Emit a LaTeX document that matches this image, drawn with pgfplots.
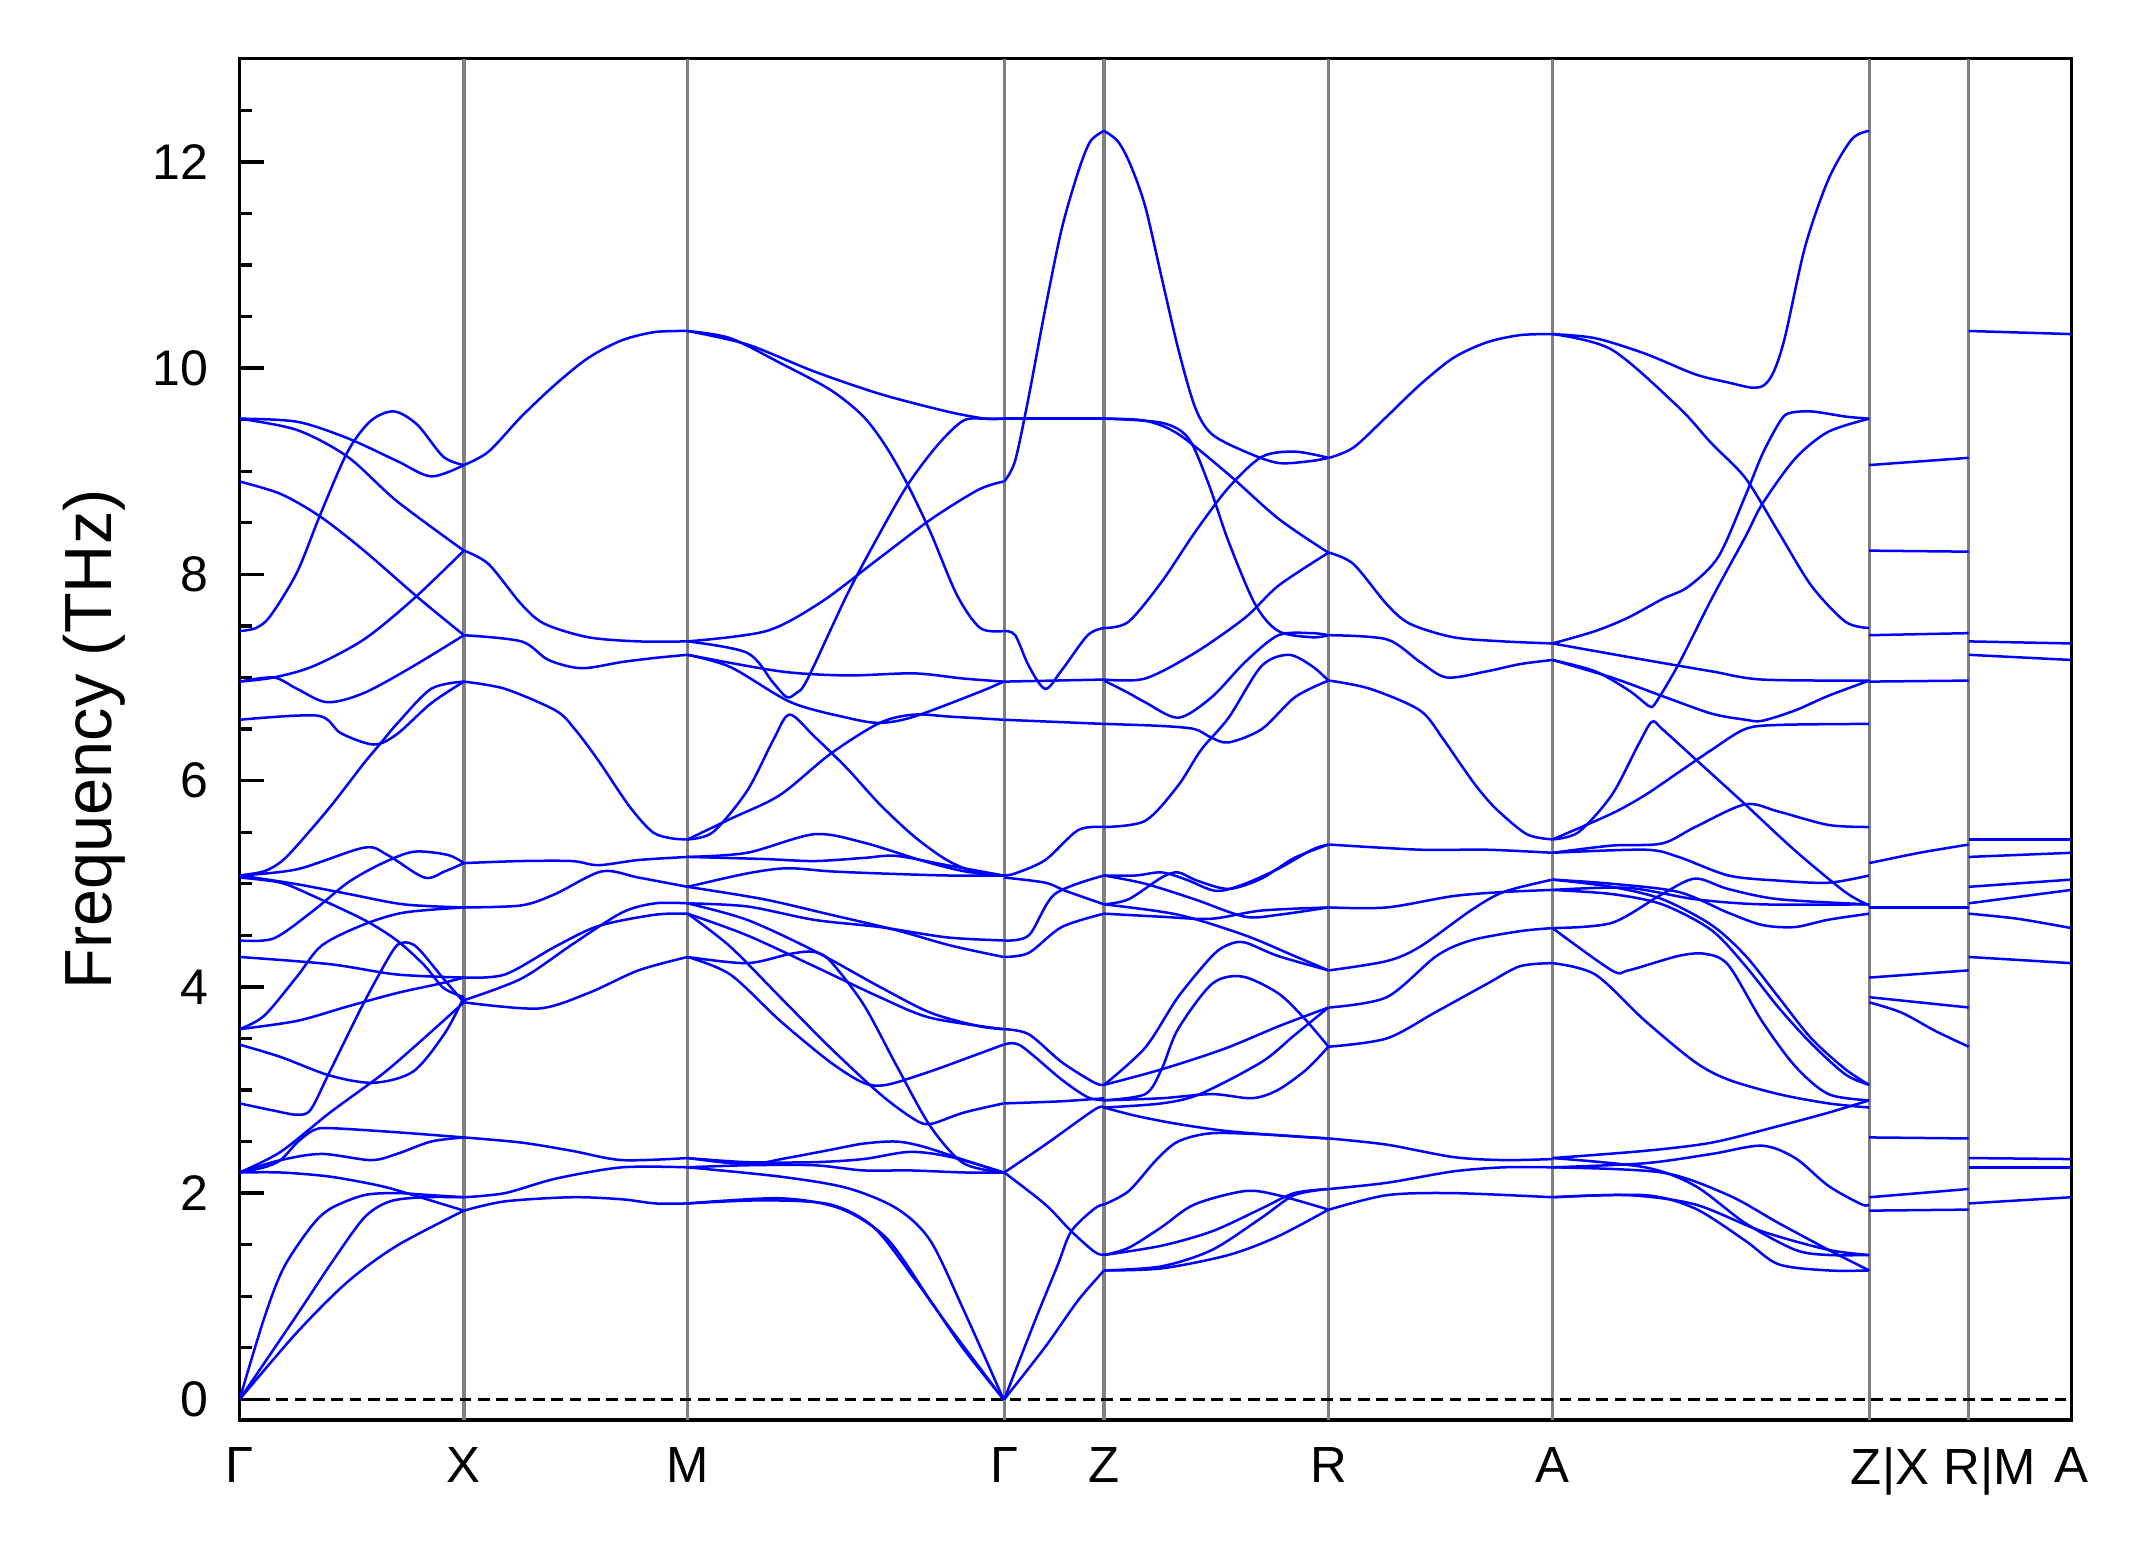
\documentclass[border=0pt]{standalone}
\usepackage{pgfplots}
\pgfplotsset{compat=1.18}
\usepackage{fontspec}
\setmainfont{Liberation Sans}
\pgfplotsset{band/.style={color={rgb,255:red,0;green,0;blue,255}, line width=0.6pt, smooth, no marks}}
\begin{document}
\begin{tikzpicture}
\begin{axis}[
  scale only axis, width=439.6pt, height=326.7pt,
  xmin=0, xmax=1339, ymin=-0.2, ymax=13,
  axis line style={line width=0.8pt},
  xtick={0,164,327.5,559,632,796,959.8,1191.3,1264,1339},
  xticklabels={Γ,X,M,Γ,Z,R,A,\hspace*{10pt}Z|X,\hspace*{10pt}R|M,A},
  x tick style={draw=none},
  ytick={0,2,4,6,8,10,12},
  minor ytick={0.5,1,1.5,2.5,3,3.5,4.5,5,5.5,6.5,7,7.5,8.5,9,9.5,10.5,11,11.5,12.5},
  ytick pos=left, tick align=inside,
  major tick length=5.8pt, minor tick length=3pt,
  y tick style={black, line width=0.8pt},
  /pgf/number format/assume math mode=true,
  yticklabel style={font=\fontsize{12}{15}\selectfont, xshift=-4pt},
  xticklabel style={font=\fontsize{12.2}{15}\selectfont, yshift=-3pt},
  ylabel={Frequency (THz)},
  ylabel style={font=\fontsize{16}{19}\selectfont, at={(axis description cs:-0.0796,0.5)}, anchor=center},
]
% vertical separators and zero line
\addplot[gray, line width=0.8pt] coordinates {(164,-0.2) (164,13)};
\addplot[gray, line width=0.8pt] coordinates {(327.5,-0.2) (327.5,13)};
\addplot[gray, line width=0.8pt] coordinates {(559,-0.2) (559,13)};
\addplot[gray, line width=0.8pt] coordinates {(632,-0.2) (632,13)};
\addplot[gray, line width=0.8pt] coordinates {(796,-0.2) (796,13)};
\addplot[gray, line width=0.8pt] coordinates {(959.8,-0.2) (959.8,13)};
\addplot[gray, line width=0.8pt] coordinates {(1191.3,-0.2) (1191.3,13)};
\addplot[gray, line width=0.8pt] coordinates {(1264,-0.2) (1264,13)};
\addplot[black, line width=0.75pt, dash pattern=on 2.8pt off 1.6pt] coordinates {(0,0) (1339,0)};

% ===== Gamma - X =====
\addplot[band] coordinates {(0,0)(17.8,0.78)(32,1.27)(52,1.67)(66.5,1.85)(91,1.98)(115,2.0)(140,1.98)(164,1.96)};
\addplot[band] coordinates {(0,0)(42,0.82)(66.5,1.31)(91,1.76)(110,1.92)(135,1.96)(164,1.96)};
\addplot[band] coordinates {(0,0)(42,0.65)(79,1.14)(115,1.49)(164,1.83)};
\addplot[band] coordinates {(0,2.2)(30,2.2)(66,2.16)(103,2.07)(127,1.98)(164,1.83)};
\addplot[band] coordinates {(0,2.2)(18,2.25)(30,2.32)(42,2.49)(54,2.61)(66,2.63)(115,2.59)(164,2.54)};
\addplot[band] coordinates {(0,2.2)(30,2.32)(60,2.38)(96,2.32)(115,2.38)(140,2.5)(164,2.54)};
\addplot[band] coordinates {(0,2.2)(30,2.4)(66,2.78)(103,3.14)(127,3.41)(164,3.85)};
\addplot[band] coordinates {(0,3.44)(30,3.32)(66,3.14)(98,3.07)(127,3.18)(150,3.55)(164,3.9)};
\addplot[band] coordinates {(0,2.87)(25,2.8)(42,2.76)(52,2.81)(66,3.18)(91,3.85)(112,4.35)(120,4.43)(130,4.38)(149,4.08)(164,3.85)};
\addplot[band] coordinates {(0,5.06)(30,5.01)(54,4.88)(91,4.65)(115,4.45)(135,4.21)(149,3.99)(164,3.9)};
\addplot[band] coordinates {(0,4.29)(66,4.22)(115,4.12)(164,4.09)};
\addplot[band] coordinates {(0,3.59)(42,3.67)(79,3.81)(115,3.94)(146,4.03)(164,4.09)};
\addplot[band] coordinates {(0,3.59)(18,3.72)(42,4.1)(60,4.4)(90,4.6)(120,4.72)(164,4.77)};
\addplot[band] coordinates {(0,5.08)(40,5.0)(80,4.9)(120,4.8)(164,4.77)};
\addplot[band] coordinates {(0,4.45)(25,4.47)(54,4.74)(79,5.01)(103,5.19)(127,5.31)(152,5.28)(164,5.2)};
\addplot[band] coordinates {(0,5.08)(42,5.14)(91,5.35)(108,5.28)(135,5.06)(150,5.12)(164,5.2)};
\addplot[band] coordinates {(0,5.08)(17.8,5.12)(30,5.21)(42,5.37)(66.5,5.75)(91,6.17)(103,6.36)(115,6.55)(140,6.89)(164,6.96)};
\addplot[band] coordinates {(0,6.59)(57,6.63)(74,6.46)(98,6.35)(115,6.45)(140,6.75)(164,6.96)};
\addplot[band] coordinates {(0,6.96)(25,7.0)(42,6.89)(64,6.76)(91,6.85)(127,7.11)(164,7.41)};
\addplot[band] coordinates {(0,6.96)(25,7.0)(54,7.11)(91,7.37)(127,7.76)(164,8.23)};
\addplot[band] coordinates {(0,7.45)(12,7.48)(22.7,7.6)(42,8.02)(59,8.58)(79,9.19)(96,9.49)(113,9.58)(130,9.45)(149,9.14)(164,9.06)};
\addplot[band] coordinates {(0,8.90)(30,8.78)(59,8.56)(91,8.23)(130,7.78)(164,7.41)};
\addplot[band] coordinates {(0,9.51)(42,9.40)(79,9.14)(115,8.71)(164,8.23)};
\addplot[band] coordinates {(0,9.51)(42,9.48)(79,9.32)(115,9.1)(140,8.95)(164,9.06)};

% ===== X - M =====
\addplot[band] coordinates {(164,1.83)(194,1.92)(243,1.96)(279.5,1.94)(303.8,1.90)(327.5,1.90)};
\addplot[band] coordinates {(164,1.96)(194,2.0)(231,2.14)(279.5,2.25)(327.5,2.25)};
\addplot[band] coordinates {(164,2.54)(206,2.49)(243,2.41)(279.5,2.32)(327.5,2.34)};
\addplot[band] coordinates {(164,3.85)(218.5,3.79)(255,3.94)(291.6,4.16)(327.5,4.29)};
\addplot[band] coordinates {(164,3.87)(206,4.08)(243,4.41)(279.5,4.72)(303.8,4.81)(327.5,4.81)};
\addplot[band] coordinates {(164,4.09)(194,4.12)(230.7,4.39)(262.4,4.59)(303.8,4.70)(327.5,4.71)};
\addplot[band] coordinates {(164,4.77)(206,4.79)(230.7,4.90)(264.8,5.12)(291.6,5.06)(327.5,4.97)};
\addplot[band] coordinates {(164,5.20)(206,5.22)(243,5.22)(262.4,5.18)(291.6,5.23)(327.5,5.26)};
\addplot[band] coordinates {(164,6.96)(194,6.89)(231,6.68)(245,6.5)(262,6.2)(285,5.75)(302,5.5)(316,5.44)(327.5,5.43)};
\addplot[band] coordinates {(164,7.41)(206,7.35)(225.8,7.17)(250,7.09)(279.5,7.15)(303.8,7.19)(327.5,7.22)};
\addplot[band] coordinates {(164,8.23)(182,8.10)(206,7.71)(223,7.52)(255,7.39)(291.6,7.35)(327.5,7.35)};
\addplot[band] coordinates {(164,9.06)(182,9.19)(206,9.53)(230.7,9.84)(255,10.1)(279.5,10.27)(303.8,10.35)(327.5,10.36)};

% ===== M - Gamma =====
\addplot[band] coordinates {(327.5,1.90)(395.2,1.95)(439.1,1.85)(473.2,1.56)(504.9,0.96)(529.2,0.49)(558.5,0)};
\addplot[band] coordinates {(327.5,1.90)(383,1.93)(431.8,1.89)(463.5,1.67)(492.7,1.18)(517.1,0.73)(558.5,0)};
\addplot[band] coordinates {(327.5,2.25)(395.2,2.16)(444,2.05)(480.5,1.85)(504.9,1.54)(529.2,0.87)(558.5,0)};
\addplot[band] coordinates {(327.5,2.34)(371,2.28)(400,2.34)(432,2.42)(456,2.48)(480,2.5)(500,2.45)(530,2.32)(558.5,2.2)};
\addplot[band] coordinates {(327.5,2.25)(371,2.27)(420,2.27)(456,2.22)(490,2.22)(530,2.2)(558.5,2.2)};
\addplot[band] coordinates {(327.5,2.34)(371,2.3)(420,2.3)(456,2.33)(490,2.4)(520,2.35)(558.5,2.2)};
\addplot[band] coordinates {(327.5,5.43)(346,5.5)(371,5.9)(390,6.39)(402,6.64)(420,6.43)(444,6.12)(468,5.77)(493,5.46)(517,5.23)(540,5.1)(558.5,5.08)};
\addplot[band] coordinates {(327.5,5.43)(359,5.63)(395,5.86)(432,6.26)(468,6.56)(493,6.64)(520,6.62)(558.5,6.59)};
\addplot[band] coordinates {(327.5,5.26)(371,5.3)(420,5.48)(456,5.4)(500,5.22)(530,5.12)(558.5,5.08)};
\addplot[band] coordinates {(327.5,5.26)(383,5.24)(420,5.22)(456,5.25)(480,5.27)(517,5.18)(558.5,5.08)};
\addplot[band] coordinates {(327.5,4.97)(371,5.1)(400,5.15)(432,5.12)(468,5.1)(517,5.08)(558.5,5.08)};
\addplot[band] coordinates {(327.5,4.97)(383,4.85)(432,4.7)(480,4.55)(520,4.4)(558.5,4.29)};
\addplot[band] coordinates {(327.5,4.81)(371,4.78)(420,4.65)(468,4.58)(517,4.48)(558.5,4.45)};
\addplot[band] coordinates {(327.5,4.81)(371,4.65)(420,4.35)(468,4.0)(505,3.75)(540,3.62)(558.5,3.59)};
\addplot[band] coordinates {(327.5,4.71)(371,4.5)(420,4.2)(468,3.9)(505,3.7)(558.5,3.59)};
\addplot[band] coordinates {(327.5,4.71)(358.7,4.39)(395.2,3.9)(431.8,3.41)(468.3,2.96)(492.7,2.72)(504.9,2.67)(529.2,2.78)(558.5,2.87)};
\addplot[band] coordinates {(327.5,4.29)(370.8,4.23)(402.5,4.32)(419.6,4.34)(431.8,4.25)(456.1,3.83)(480.5,3.23)(504.9,2.65)(529.2,2.29)(558.5,2.2)};
\addplot[band] coordinates {(327.5,4.29)(358.7,4.12)(395.2,3.67)(431.8,3.27)(456.1,3.07)(473,3.05)(504.9,3.18)(534,3.32)(558.5,3.44)};
\addplot[band] coordinates {(327.5,10.36)(371,10.23)(419.6,9.97)(468,9.75)(517,9.58)(545,9.51)(558.5,9.51)};
\addplot[band] coordinates {(327.5,10.36)(358.7,10.29)(395.2,10.05)(431.8,9.79)(456.1,9.53)(473,9.23)(488,8.88)(505,8.41)(524.4,7.80)(541.4,7.48)(558.5,7.45)};
\addplot[band] coordinates {(327.5,7.35)(385,7.45)(425,7.73)(465,8.13)(505,8.53)(540,8.82)(558.5,8.90)};
\addplot[band] coordinates {(327.5,7.35)(371,7.24)(390,6.95)(400,6.81)(407,6.85)(415,6.98)(444,7.8)(466,8.35)(488,8.86)(510,9.25)(529,9.49)(545,9.51)(558.5,9.51)};
\addplot[band] coordinates {(327.5,7.22)(359,7.1)(403,6.76)(444,6.61)(468,6.56)(493,6.62)(541,6.86)(558.5,6.96)};
\addplot[band] coordinates {(327.5,7.22)(395,7.06)(444,7.02)(493,7.04)(529,6.99)(558.5,6.96)};

% ===== Gamma - Z =====
\addplot[band] coordinates {(559,0)(589,0.51)(613,0.96)(632,1.25)};
\addplot[band] coordinates {(559,0)(582,0.78)(598,1.3)(608,1.63)(625,1.85)(632,1.89)};
\addplot[band] coordinates {(559,2.2)(589,1.89)(608,1.63)(625,1.43)(632,1.40)};
\addplot[band] coordinates {(559,2.2)(589,2.47)(625,2.81)(632,2.83)};
\addplot[band] coordinates {(559,2.87)(600,2.89)(632,2.92)};
\addplot[band] coordinates {(559,3.44)(571,3.43)(601,3.1)(620,2.93)(632,2.9)};
\addplot[band] coordinates {(559,3.59)(577,3.54)(601,3.27)(625,3.07)(632,3.05)};
\addplot[band] coordinates {(559,4.29)(577,4.33)(601,4.58)(632,4.71)};
\addplot[band] coordinates {(559,4.45)(577,4.5)(596,4.9)(632,5.08)};
\addplot[band] coordinates {(559,5.08)(567,5.1)(589,5.23)(613,5.52)(632,5.55)};
\addplot[band] coordinates {(559,5.06)(589,5.01)(604,4.93)(632,4.80)};
\addplot[band] coordinates {(559,6.59)(632,6.55)};
\addplot[band] coordinates {(559,6.96)(632,6.98)};
\addplot[band] coordinates {(559,7.45)(567,7.41)(577,7.11)(589,6.89)(601,7.07)(620,7.41)(632,7.48)};
\addplot[band] coordinates {(559,8.9)(566.9,9.1)(576.7,9.71)(588.9,10.57)(601,11.35)(613.2,11.91)(622,12.2)(632,12.30)};
\addplot[band] coordinates {(559,9.51)(632,9.51)};

% ===== Z - R =====
\addplot[band] coordinates {(632,12.3)(642,12.2)(651,11.98)(662,11.57)(674.2,10.87)(686.3,10.18)(698.5,9.62)(710.7,9.36)(735.1,9.19)(759.4,9.08)(783.8,9.10)(796,9.13)};
\addplot[band] coordinates {(632,9.51)(662,9.49)(686.3,9.36)(722.9,8.97)(759.4,8.54)(796,8.21)};
\addplot[band] coordinates {(632,9.51)(674,9.47)(693.6,9.32)(708.3,8.88)(722.9,8.32)(742.4,7.71)(759.4,7.45)(783.8,7.39)(796,7.41)};
\addplot[band] coordinates {(632,7.48)(649.8,7.54)(674.2,7.93)(698.5,8.41)(722.9,8.84)(747.3,9.14)(771.6,9.19)(796,9.13)};
\addplot[band] coordinates {(632,6.98)(662,6.99)(698.5,7.24)(735.1,7.58)(759.4,7.89)(796,8.21)};
\addplot[band] coordinates {(632,6.97)(649.8,6.85)(662,6.76)(686.3,6.61)(710.7,6.81)(735.1,7.15)(759.4,7.41)(783.8,7.43)(796,7.41)};
\addplot[band] coordinates {(632,6.55)(674,6.53)(698,6.5)(710,6.42)(722.9,6.37)(747.3,6.5)(771.6,6.81)(796,6.97)};
\addplot[band] coordinates {(632,5.55)(662,5.61)(686,5.95)(703,6.30)(723,6.61)(747,7.11)(767,7.22)(784,7.11)(796,6.97)};
\addplot[band] coordinates {(632,5.08)(655,5.08)(674,5.11)(692,5.04)(714,4.93)(735,5.0)(760,5.15)(784,5.33)(796,5.38)};
\addplot[band] coordinates {(632,4.80)(650,4.85)(674,5.06)(686,5.11)(700,5.03)(723,4.95)(747,5.05)(771,5.25)(796,5.38)};
\addplot[band] coordinates {(632,4.71)(674,4.68)(710,4.66)(747,4.74)(796,4.77)};
\addplot[band] coordinates {(632,5.08)(662,5.0)(698,4.85)(735,4.68)(760,4.7)(796,4.77)};
\addplot[band] coordinates {(632,4.80)(686,4.7)(735,4.5)(771,4.3)(796,4.16)};
\addplot[band] coordinates {(632,3.05)(662,3.41)(686,3.90)(711,4.30)(723,4.41)(735,4.43)(759,4.30)(796,4.16)};
\addplot[band] coordinates {(632,2.9)(662,2.96)(674,3.2)(686,3.59)(711,4.03)(733,4.10)(759,3.94)(778,3.7)(796,3.42)};
\addplot[band] coordinates {(632,3.05)(674,3.2)(720,3.4)(760,3.62)(796,3.80)};
\addplot[band] coordinates {(632,2.83)(674,2.87)(702,2.96)(747,3.27)(771,3.53)(796,3.80)};
\addplot[band] coordinates {(632,2.9)(674,2.92)(711,2.96)(740,2.92)(759,3.0)(780,3.2)(796,3.42)};
\addplot[band] coordinates {(632,2.83)(655,2.75)(686,2.67)(723,2.6)(771,2.55)(796,2.53)};
\addplot[band] coordinates {(632,1.89)(650,2.02)(670,2.32)(686,2.5)(710,2.58)(747,2.57)(796,2.53)};
\addplot[band] coordinates {(632,1.40)(650,1.47)(674,1.67)(698,1.89)(735,2.02)(759,1.98)(796,1.84)};
\addplot[band] coordinates {(632,1.40)(674,1.49)(711,1.63)(747,1.85)(771,2.0)(796,2.04)};
\addplot[band] coordinates {(632,1.25)(674,1.29)(711,1.45)(747,1.76)(771,1.98)(796,2.04)};
\addplot[band] coordinates {(632,1.25)(674,1.27)(723,1.40)(759,1.58)(796,1.84)};

% ===== R - A =====
\addplot[band] coordinates {(796.5,9.13)(814.3,9.23)(838.6,9.53)(863,9.84)(887.4,10.1)(911.8,10.25)(936.1,10.32)(959.8,10.33)};
\addplot[band] coordinates {(796.5,8.21)(814.3,8.10)(838.6,7.71)(855.7,7.52)(887.4,7.39)(923.9,7.35)(959.8,7.33)};
\addplot[band] coordinates {(796.5,7.41)(838.6,7.37)(863,7.15)(882.5,7.0)(911.8,7.06)(936.1,7.13)(959.8,7.17)};
\addplot[band] coordinates {(796.5,6.97)(826.5,6.89)(863,6.68)(880,6.4)(892,6.17)(905,5.93)(919,5.72)(941,5.48)(959.8,5.43)};
\addplot[band] coordinates {(796.5,5.38)(863,5.33)(911.8,5.33)(959.8,5.30)};
\addplot[band] coordinates {(796.5,4.77)(838.6,4.77)(887,4.88)(924,4.92)(959.8,4.94)};
\addplot[band] coordinates {(796.5,4.16)(838.6,4.25)(863,4.39)(900,4.74)(924,4.92)(959.8,5.04)};
\addplot[band] coordinates {(796.5,3.80)(838.6,3.9)(875,4.3)(900,4.45)(936,4.54)(959.8,4.57)};
\addplot[band] coordinates {(796.5,3.42)(838.6,3.5)(875,3.76)(912,4.03)(936,4.2)(959.8,4.23)};
\addplot[band] coordinates {(796.5,2.53)(838.6,2.47)(887,2.35)(924,2.32)(959.8,2.33)};
\addplot[band] coordinates {(796.5,2.04)(838.6,2.1)(887,2.21)(924,2.25)(959.8,2.25)};
\addplot[band] coordinates {(796.5,1.84)(838.6,1.98)(887,2.0)(959.8,1.96)};

% ===== A - Z =====
\addplot[band] coordinates {(959.8,10.33)(991,10.29)(1027.5,10.14)(1064.1,9.94)(1088.4,9.86)(1106,9.81)(1115,9.84)(1122,9.98)(1129.9,10.31)(1144.5,11.18)(1161.5,11.83)(1178.6,12.22)(1191.3,12.30)};
\addplot[band] coordinates {(959.8,10.33)(1003,10.18)(1052,9.62)(1076,9.27)(1101,8.93)(1125,8.41)(1149,7.89)(1174,7.54)(1191.3,7.48)};
\addplot[band] coordinates {(959.8,7.33)(1027.5,7.17)(1076,7.06)(1113,6.98)(1191.3,6.97)};
\addplot[band] coordinates {(959.8,7.33)(991,7.45)(1015,7.58)(1040,7.76)(1059,7.88)(1081,8.17)(1101,8.77)(1113,9.16)(1125,9.46)(1132,9.56)(1149,9.58)(1174,9.53)(1191.3,9.51)};
\addplot[band] coordinates {(959.8,7.17)(991,7.06)(1015,6.88)(1027.5,6.75)(1031,6.72)(1035,6.75)(1052,7.13)(1076,7.76)(1101,8.37)(1113,8.68)(1137,9.12)(1161,9.38)(1191.3,9.51)};
\addplot[band] coordinates {(959.8,7.17)(1003,7.0)(1040,6.82)(1076,6.65)(1101,6.59)(1113,6.58)(1137,6.68)(1161,6.82)(1191.3,6.97)};
\addplot[band] coordinates {(959.8,5.43)(1003.1,5.68)(1027.5,5.86)(1051.9,6.08)(1076.3,6.30)(1100.6,6.50)(1125,6.54)(1191.3,6.55)};
\addplot[band] coordinates {(959.8,5.43)(978.8,5.50)(1003.1,5.86)(1022.6,6.35)(1032.4,6.57)(1040,6.5)(1064.1,6.21)(1100.6,5.77)(1137.2,5.32)(1173.7,4.92)(1191.3,4.79)};
\addplot[band] coordinates {(959.8,5.30)(1003.1,5.37)(1039.7,5.39)(1064.1,5.55)(1100.6,5.77)(1125,5.70)(1161.5,5.57)(1191.3,5.55)};
\addplot[band] coordinates {(959.8,5.30)(1027.5,5.33)(1051.9,5.26)(1088.4,5.08)(1125,5.03)(1161.5,5.01)(1191.3,5.08)};
\addplot[band] coordinates {(959.8,5.04)(1003,5.0)(1052,4.92)(1088,4.72)(1113,4.6)(1137,4.58)(1161,4.65)(1191.3,4.71)};
\addplot[band] coordinates {(959.8,5.04)(1003,4.97)(1040,4.85)(1076,4.6)(1101,4.3)(1125,3.9)(1149,3.5)(1174,3.2)(1191.3,3.05)};
\addplot[band] coordinates {(959.8,4.94)(1003,4.9)(1040,4.8)(1076,4.55)(1101,4.2)(1125,3.8)(1149,3.45)(1174,3.15)(1191.3,3.05)};
\addplot[band] coordinates {(959.8,4.57)(1003.1,4.16)(1015.3,4.16)(1051.9,4.30)(1071.4,4.32)(1088.4,4.21)(1112.8,3.67)(1137.2,3.23)(1161.5,2.96)(1191.3,2.90)};
\addplot[band] coordinates {(959.8,4.23)(991,4.12)(1027.5,3.67)(1064.1,3.27)(1088.4,3.10)(1125,2.96)(1161.5,2.87)(1191.3,2.83)};
\addplot[band] coordinates {(959.8,4.57)(1003,4.62)(1040,4.9)(1064,5.05)(1088,4.95)(1125,4.85)(1191.3,4.80)};
\addplot[band] coordinates {(959.8,4.94)(1015,4.96)(1064,4.85)(1113,4.8)(1191.3,4.80)};
\addplot[band] coordinates {(959.8,2.34)(1027.5,2.41)(1076.3,2.49)(1125,2.65)(1161.5,2.78)(1191.3,2.90)};
\addplot[band] coordinates {(959.8,2.25)(1027.5,2.29)(1076.3,2.38)(1112.8,2.46)(1137.2,2.34)(1161.5,2.07)(1185.9,1.89)(1191.3,1.89)};
\addplot[band] coordinates {(959.8,2.34)(1027.5,2.25)(1064.1,2.07)(1100.6,1.71)(1137.2,1.45)(1161.5,1.40)(1191.3,1.40)};
\addplot[band] coordinates {(959.8,1.96)(1027.5,1.98)(1064.1,1.85)(1100.6,1.54)(1125,1.31)(1161.5,1.25)(1191.3,1.25)};
\addplot[band] coordinates {(959.8,1.96)(1015.3,1.98)(1064.1,1.89)(1112.8,1.63)(1161.5,1.45)(1191.3,1.40)};
\addplot[band] coordinates {(959.8,2.25)(1039.7,2.20)(1088.4,1.98)(1125,1.71)(1161.5,1.45)(1191.3,1.25)};

% ===== X - R panel =====
\addplot[band] coordinates {(1191.3,9.06)(1264,9.13)};
\addplot[band] coordinates {(1191.3,8.23)(1264,8.22)};
\addplot[band] coordinates {(1191.3,7.41)(1264,7.43)};
\addplot[band] coordinates {(1191.3,6.96)(1264,6.97)};
\addplot[band] coordinates {(1191.3,5.20)(1228,5.3)(1264,5.38)};
\addplot[band] coordinates {(1191.3,4.77)(1264,4.77)};
\addplot[band] coordinates {(1191.3,4.09)(1264,4.16)};
\addplot[band] coordinates {(1191.3,3.90)(1264,3.80)};
\addplot[band] coordinates {(1191.3,3.85)(1215,3.75)(1240,3.57)(1264,3.42)};
\addplot[band] coordinates {(1191.3,2.54)(1264,2.53)};
\addplot[band] coordinates {(1191.3,1.96)(1228,2.0)(1264,2.04)};
\addplot[band] coordinates {(1191.3,1.83)(1264,1.84)};

% ===== M - A panel =====
\addplot[band] coordinates {(1264,10.36)(1339,10.33)};
\addplot[band] coordinates {(1264,7.35)(1339,7.33)};
\addplot[band] coordinates {(1264,7.22)(1339,7.17)};
\addplot[band] coordinates {(1264,5.43)(1339,5.43)};
\addplot[band] coordinates {(1264,5.26)(1339,5.30)};
\addplot[band] coordinates {(1264,4.97)(1339,5.04)};
\addplot[band] coordinates {(1264,4.81)(1339,4.94)};
\addplot[band] coordinates {(1264,4.71)(1300,4.66)(1339,4.57)};
\addplot[band] coordinates {(1264,4.29)(1339,4.23)};
\addplot[band] coordinates {(1264,2.34)(1339,2.33)};
\addplot[band] coordinates {(1264,2.25)(1339,2.25)};
\addplot[band] coordinates {(1264,1.90)(1339,1.96)};
\end{axis}
\path ([xshift=-57.5pt,yshift=-30.9pt]current axis.south west) rectangle ([xshift=17.7pt,yshift=14.1pt]current axis.north east);
\end{tikzpicture}
\end{document}
